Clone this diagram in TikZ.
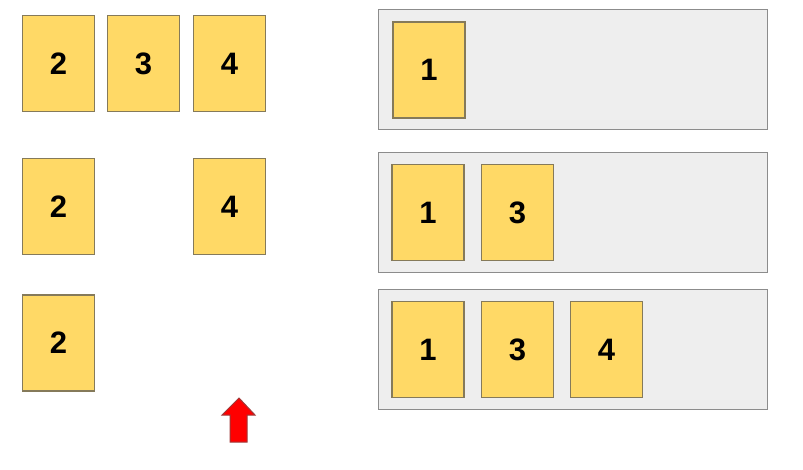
\documentclass[tikz,border=0pt]{standalone}
\usepackage{fontspec}
\setmainfont{Liberation Sans}
\definecolor{cardfill}{HTML}{FFD966}
\definecolor{cardline}{HTML}{857A5A}
\definecolor{panelfill}{HTML}{EEEEEE}
\definecolor{panelline}{HTML}{8C8C8C}
\definecolor{arrowline}{HTML}{9E3A3A}
\tikzset{
  card/.style={draw=cardline, fill=cardfill, line width=1.2pt, minimum width=72pt, minimum height=96pt, inner sep=0pt, font=\fontsize{31}{31}\selectfont\bfseries},
  panel/.style={draw=panelline, fill=panelfill, line width=1.2pt, minimum width=389pt, minimum height=120pt, inner sep=0pt},
}
\begin{document}
\begin{tikzpicture}[x=1pt,y=-1pt]
\useasboundingbox (0,0) rectangle (803,470);
% left cards
\node[card] (l12) at (58.5,63.5) {2};
\node[card] (l13) at (143.5,63.5) {3};
\node[card] (l14) at (229.5,63.5) {4};
\node[card] (l22) at (58.5,206.5) {2};
\node[card] (l24) at (229.5,206.5) {4};
\node[card] (l32) at (58.5,343) {2};
% panels
\node[panel] (p1) at (573,69.5) {};
\node[panel] (p2) at (573,212.5) {};
\node[panel] (p3) at (573,349.5) {};
% right cards
\node[card] (r11) at (429,70) {1};
\node[card] (r21) at (428,212.5) {1};
\node[card] (r23) at (517.5,212.5) {3};
\node[card] (r31) at (428,349.5) {1};
\node[card] (r33) at (517.5,349.5) {3};
\node[card] (r34) at (606.5,349.5) {4};
% arrow
\draw[draw=arrowline, fill=red, line width=1pt, line join=miter]
  (239,398) -- (255,415) -- (247,415) -- (247,442) -- (230,442) -- (230,415) -- (222,415) -- cycle;
\end{tikzpicture}
\end{document}
